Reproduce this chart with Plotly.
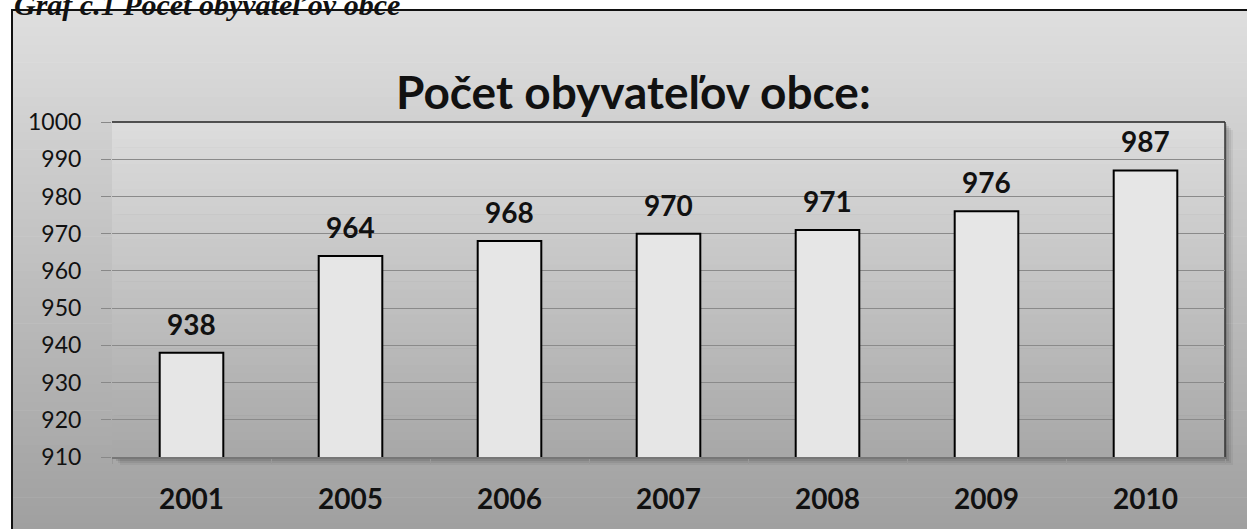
import plotly.graph_objects as go

years = ["2001", "2005", "2006", "2007", "2008", "2009", "2010"]
population = [938, 964, 968, 970, 971, 976, 987]
y_ticks = [910, 920, 930, 940, 950, 960, 970, 980, 990, 1000]

W, H = 1247, 529
L, R, T, B = 112, 1225, 122, 457

def px2x(px):
    return (px - L) / (R - L)

def px2y(py):
    return 1 - (py - T) / (B - T)

def grey(v):
    v = int(round(v))
    return f"rgb({v},{v},{v})"

shapes = []
# outer gradient background
n = 60
y0, y1 = 10, 532
for i in range(n):
    a = y0 + (y1 - y0) * i / n
    b = y0 + (y1 - y0) * (i + 1) / n
    t = i / (n - 1)
    shapes.append(dict(type="rect", xref="paper", yref="paper", layer="below",
                       x0=px2x(12), x1=px2x(1252), y0=px2y(b) - 0.002, y1=px2y(a),
                       fillcolor=grey(222 - 62 * t), line=dict(width=0)))
# shadow of plot area
for off, op in [(8, 0.05), (6, 0.07), (4, 0.09), (2, 0.12)]:
    shapes.append(dict(type="rect", xref="paper", yref="paper", layer="below",
                       x0=px2x(L + off), x1=px2x(R + off), y0=px2y(B + off), y1=px2y(T + off),
                       fillcolor=f"rgba(0,0,0,{op})", line=dict(width=0)))
# plot area gradient
m = 40
for i in range(m):
    a = T + (B - T) * i / m
    b = T + (B - T) * (i + 1) / m
    t = i / (m - 1)
    shapes.append(dict(type="rect", xref="paper", yref="paper", layer="below",
                       x0=0, x1=1, y0=px2y(b) - 0.002, y1=px2y(a),
                       fillcolor=grey(220 - 52 * t), line=dict(width=0)))
# plot area top/right border
shapes.append(dict(type="line", xref="paper", yref="paper", layer="below",
                   x0=0, x1=1, y0=1, y1=1, line=dict(color="#222", width=1.5)))
shapes.append(dict(type="line", xref="paper", yref="paper", layer="below",
                   x0=1, x1=1, y0=0, y1=1, line=dict(color="#333", width=1.5)))
# outer frame
shapes.append(dict(type="rect", xref="paper", yref="paper", layer="above",
                   x0=px2x(12), x1=px2x(1260), y0=px2y(540), y1=px2y(10),
                   line=dict(color="#111", width=2), fillcolor="rgba(0,0,0,0)"))

fig = go.Figure()
fig.add_trace(go.Bar(
    x=years, y=population, width=0.40,
    marker=dict(color="#e6e6e6", line=dict(color="#000", width=2)),
    hoverinfo="x+y",
))

font_fam = "Lato, 'Open Sans', sans-serif"
annotations = []
for i, v in enumerate(population):
    annotations.append(dict(x=i, y=v, xref="x", yref="y", text=f"<b>{v}</b>",
                            showarrow=False, yanchor="bottom", yshift=10,
                            font=dict(family=font_fam, size=28, color="#111")))
annotations.append(dict(x=px2x(633), y=px2y(62), xref="paper", yref="paper",
                        text="<b>Počet obyvateľov obce:</b>", showarrow=False,
                        font=dict(family=font_fam, size=46, color="#111")))
annotations.append(dict(x=px2x(12), y=px2y(-14), xref="paper", yref="paper", xanchor="left",
                        text="<b><i>Graf č.1 Počet obyvateľov obce</i></b>", showarrow=False,
                        font=dict(family="'Liberation Serif', serif", size=30, color="#111")))

fig.update_layout(
    width=W, height=H,
    margin=dict(l=L, r=W - R, t=T, b=H - B, pad=0, autoexpand=False),
    paper_bgcolor="white",
    plot_bgcolor="rgba(0,0,0,0)",
    shapes=shapes,
    annotations=annotations,
    showlegend=False,
)
fig.update_xaxes(
    type="category", categoryorder="array", categoryarray=years, range=[-0.5, 6.5],
    automargin=False, tickangle=0,
    showgrid=False, showline=True, linecolor="#777", linewidth=1.5,
    ticks="outside", tickson="boundaries", ticklen=5, tickcolor="#999",
    tickfont=dict(family=font_fam, size=28, color="#111"), tickprefix="<b>", ticksuffix="</b>",
    ticklabelstandoff=17, fixedrange=True,
)
fig.update_yaxes(
    range=[910, 1000], tickvals=y_ticks, showgrid=True, gridcolor="#8a8a8a", gridwidth=1,
    automargin=False,
    showline=False, zeroline=False, ticks="outside", ticklen=10, tickcolor="#888",
    tickfont=dict(family=font_fam, size=23, color="#111"), tickprefix="<b>", ticksuffix="</b>",
    ticklabelstandoff=15, fixedrange=True,
)

fig.write_html("out.html", config={"displayModeBar": False},
               post_script="document.body.style.margin='0';")
